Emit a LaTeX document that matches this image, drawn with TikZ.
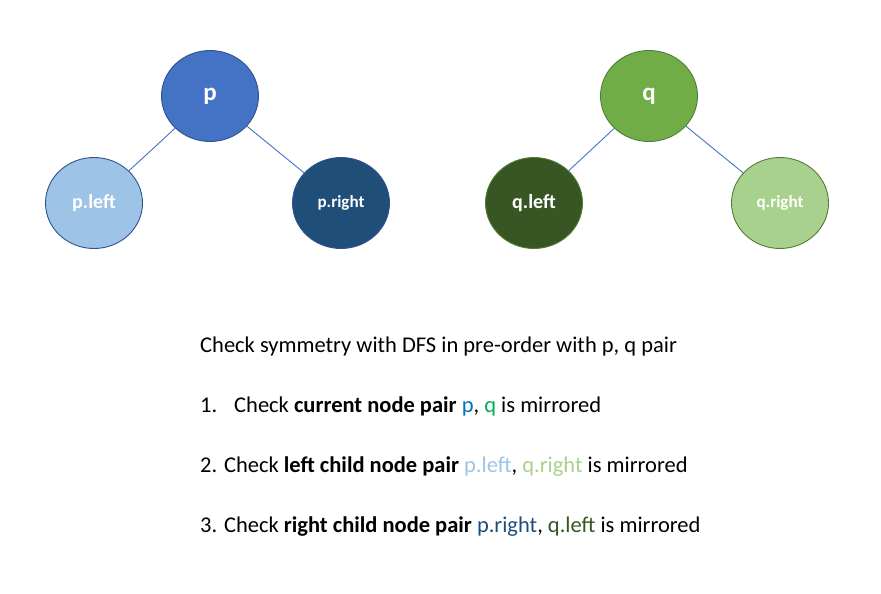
\documentclass[tikz,border=0pt]{standalone}
\usepackage{fontspec}
\setmainfont{Carlito}
\usetikzlibrary{shapes.geometric}
\definecolor{pmid}{HTML}{4472C4}
\definecolor{pborder}{HTML}{2F528F}
\definecolor{plight}{HTML}{9DC3E6}
\definecolor{pdark}{HTML}{1F4E79}
\definecolor{qmid}{HTML}{70AD47}
\definecolor{qborder}{HTML}{507E32}
\definecolor{qlight}{HTML}{A9D18E}
\definecolor{qdark}{HTML}{375623}
\definecolor{tblue}{HTML}{0070C0}
\definecolor{tgreen}{HTML}{00B050}
\tikzset{
  treenode/.style={ellipse, minimum width=97pt, minimum height=91pt, inner sep=0pt, line width=0.9pt, text=white, font=\bfseries},
  big/.style={font=\fontsize{25}{29}\selectfont\bfseries},
  mid/.style={font=\fontsize{20}{24}\selectfont\bfseries},
  small/.style={font=\fontsize{17}{20}\selectfont\bfseries},
  edge/.style={draw=pmid, line width=0.9pt},
  txt/.style={anchor=base west, inner sep=0pt, font=\fontsize{22.5}{27}\selectfont}
}
\begin{document}
\begin{tikzpicture}[x=1pt,y=-1pt]
\useasboundingbox (0,0) rectangle (881,594);
% p tree
\node[treenode, big, fill=pmid, draw=pborder] (p) at (210,96) {p};
\node[treenode, mid, fill=plight, draw=pborder] (pl) at (94,203) {p.left};
\node[treenode, small, fill=pdark, draw=pborder] (pr) at (341,203) {p.right};
\draw[edge] (p) -- (pl);
\draw[edge] (p) -- (pr);
% q tree
\node[treenode, big, fill=qmid, draw=qborder] (q) at (649,96) {q};
\node[treenode, mid, fill=qdark, draw=qborder] (ql) at (534,203) {q.left};
\node[treenode, small, fill=qlight, draw=qborder] (qr) at (780,203) {q.right};
\draw[edge] (q) -- (ql);
\draw[edge] (q) -- (qr);
% text
\node[txt] (t0) at (200,352) {Check symmetry with DFS in pre-order with p, q pair};
\node[txt] (n1) at (200,412) {1.};
\node[txt] (t1) at (234,412) {Check \textbf{current node pair} \textcolor{tblue}{p}, \textcolor{tgreen}{q} is mirrored};
\node[txt] (t2) at (200,472) {2. Check \textbf{left child node pair} \textcolor{plight}{p.left}, \textcolor{qlight}{q.right} is mirrored};
\node[txt] (t3) at (200,532) {3. Check \textbf{right child node pair} \textcolor{pdark}{p.right}, \textcolor{qdark}{q.left} is mirrored};
\end{tikzpicture}
\end{document}
